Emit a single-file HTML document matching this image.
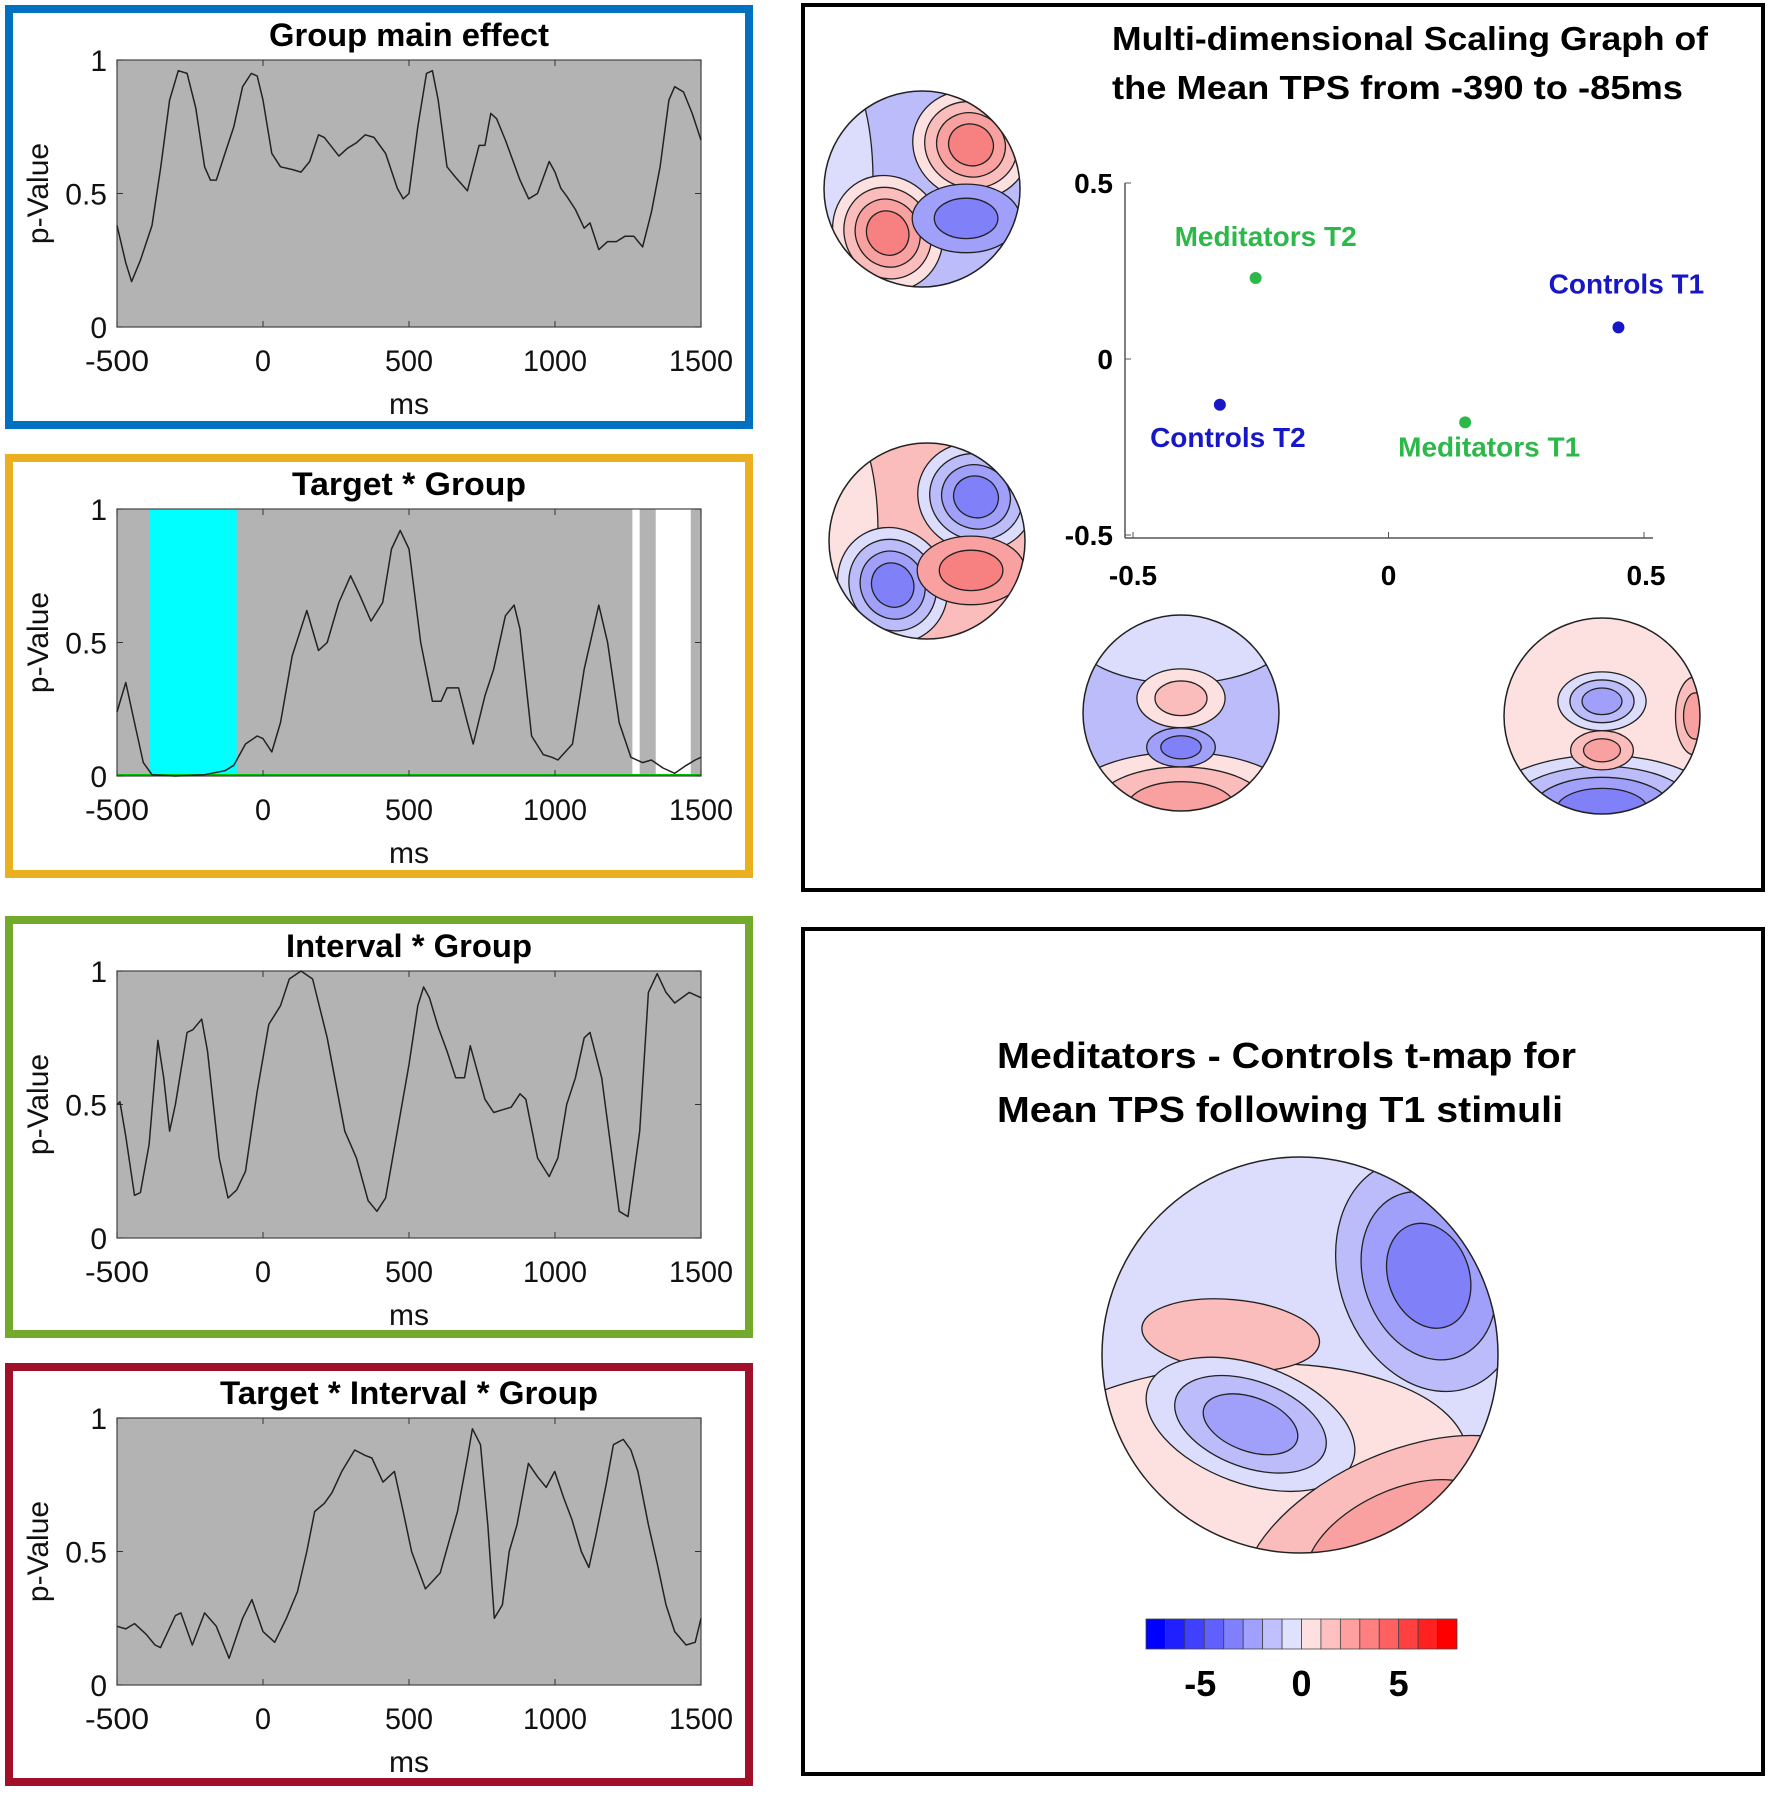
<!DOCTYPE html>
<html><head><meta charset="utf-8">
<style>
html,body{margin:0;padding:0;background:#fff;}
body{width:1770px;height:1796px;position:relative;overflow:hidden;font-family:"Liberation Sans",Arial,sans-serif;}
svg{position:absolute;left:0;top:0;}
</style></head>
<body>
<svg id="fig" width="1770" height="1796" viewBox="0 0 1770 1796" xmlns="http://www.w3.org/2000/svg">
<defs></defs>
<g id="left"></g>
<g id="right"></g>
</svg>
<script>
const NS="http://www.w3.org/2000/svg";
// ---- p-value time series data (ms, p) ----
const g1T=[-500,-470,-450,-420,-380,-350,-320,-290,-260,-230,-200,-180,-160,-130,-100,-70,-40,-20,0,30,60,100,130,160,190,210,260,290,320,350,380,420,460,480,500,530,560,580,600,630,660,700,740,760,780,800,830,880,910,940,980,1000,1020,1040,1070,1100,1120,1150,1180,1210,1240,1270,1300,1330,1360,1390,1410,1440,1470,1500];
const g1P=[0.38,0.24,0.17,0.25,0.38,0.6,0.85,0.96,0.95,0.82,0.6,0.55,0.55,0.65,0.75,0.9,0.95,0.94,0.85,0.65,0.6,0.59,0.58,0.62,0.72,0.71,0.64,0.67,0.69,0.72,0.71,0.65,0.52,0.48,0.5,0.75,0.95,0.96,0.85,0.6,0.56,0.51,0.68,0.68,0.8,0.78,0.7,0.55,0.48,0.5,0.62,0.58,0.52,0.49,0.44,0.37,0.39,0.29,0.32,0.32,0.34,0.34,0.3,0.43,0.6,0.85,0.9,0.88,0.8,0.7];
const g2T=[-500,-470,-440,-410,-380,-300,-200,-130,-100,-60,-20,0,30,60,100,150,190,220,260,300,330,370,410,440,470,500,540,580,610,630,670,700,720,760,790,830,860,880,920,960,990,1010,1060,1100,1150,1180,1220,1260,1300,1330,1370,1410,1450,1480,1500];
const g2P=[0.24,0.35,0.2,0.05,0.005,0,0.005,0.02,0.04,0.12,0.15,0.14,0.09,0.2,0.45,0.62,0.47,0.5,0.65,0.75,0.68,0.58,0.65,0.85,0.92,0.85,0.5,0.28,0.28,0.33,0.33,0.2,0.12,0.3,0.4,0.6,0.64,0.55,0.15,0.08,0.07,0.06,0.12,0.4,0.64,0.5,0.2,0.07,0.05,0.06,0.03,0.01,0.04,0.06,0.07];
const g3T=[-500,-490,-470,-440,-420,-390,-360,-340,-320,-300,-260,-240,-210,-190,-150,-120,-90,-60,-20,20,60,90,130,170,220,280,320,360,390,420,460,500,530,550,570,600,630,660,690,710,740,760,790,820,850,880,900,940,980,1010,1040,1070,1100,1120,1160,1190,1220,1250,1290,1320,1350,1380,1410,1460,1500];
const g3P=[0.5,0.51,0.38,0.16,0.17,0.35,0.74,0.6,0.4,0.5,0.77,0.78,0.82,0.7,0.3,0.15,0.18,0.25,0.55,0.8,0.87,0.97,1.0,0.97,0.75,0.4,0.3,0.14,0.1,0.15,0.4,0.65,0.87,0.94,0.9,0.79,0.7,0.6,0.6,0.72,0.6,0.52,0.47,0.48,0.49,0.54,0.52,0.3,0.23,0.3,0.5,0.6,0.75,0.77,0.6,0.35,0.1,0.08,0.4,0.92,0.99,0.92,0.88,0.92,0.9];
const g4T=[-500,-470,-440,-400,-370,-351,-300,-281,-242,-200,-160,-116,-70,-38,0,40,80,118,150,177,210,236,270,314,350,373,411,450,480,509,556,590,607,640,666,700,717,745,770,792,820,843,870,909,940,970,999,1030,1058,1090,1116,1140,1175,1200,1234,1260,1284,1320,1351,1380,1410,1449,1480,1500];
const g4P=[0.22,0.21,0.23,0.19,0.15,0.14,0.26,0.27,0.15,0.27,0.22,0.1,0.25,0.32,0.2,0.16,0.25,0.35,0.5,0.65,0.68,0.72,0.8,0.88,0.86,0.85,0.76,0.8,0.65,0.5,0.36,0.4,0.42,0.55,0.65,0.85,0.96,0.9,0.6,0.25,0.3,0.5,0.6,0.83,0.78,0.74,0.8,0.7,0.62,0.5,0.44,0.56,0.75,0.9,0.92,0.88,0.8,0.6,0.45,0.3,0.2,0.15,0.16,0.25];
const xTicks=[-500,0,500,1000,1500];
const yTicks=[0,0.5,1];
const yTickLabels=["0","0.5","1"];
const sigBands=[[-390,-90]];
const whiteBands=[[1265,1290],[1345,1465]];
// MDS data
const mdsNames=["Meditators T2","Controls T1","Controls T2","Meditators T1"];
const mdsX=[-0.26,0.45,-0.33,0.15];
const mdsY=[0.23,0.09,-0.13,-0.18];
const mdsTicks=[-0.5,0,0.5];
const mdsTickLabels=["-0.5","0","0.5"];
const cbarValues=[-8,-7,-6,-5,-4,-3,-2,-1,1,2,3,4,5,6,7,8];
const cbarTicks=[-5,0,5];

function el(tag,attrs,parent){const e=document.createElementNS(NS,tag);for(const k in attrs)e.setAttribute(k,attrs[k]);if(parent)parent.appendChild(e);return e;}
function txt(s,attrs,parent){const e=el('text',attrs,parent);e.textContent=s;return e;}

const left=document.getElementById('left');
const panels=[
 {name:'group-main-effect',title:'Group main effect',tl:280,color:'#0070c0',fy:9,fh:416,T:g1T,P:g1P},
 {name:'target-group',title:'Target * Group',tl:234,color:'#eab020',fy:458,fh:416,T:g2T,P:g2P,sig:true},
 {name:'interval-group',title:'Interval * Group',tl:246,color:'#73aa2c',fy:920,fh:414,T:g3T,P:g3P},
 {name:'target-interval-group',title:'Target * Interval * Group',tl:378,color:'#a01029',fy:1367,fh:415,T:g4T,P:g4P}
];
panels.forEach(p=>{
  const g=el('g',{},left);
  
  
  const fr=el('rect',{x:9,y:p.fy,width:740,height:p.fh,fill:'none',stroke:p.color,'stroke-width':8},g);
  
  
  const px0=117,px1=701,py0=p.fy+51,py1=p.fy+318;
  const X=v=>px0+(v+500)/2000*(px1-px0);
  const Y=v=>py1-v*(py1-py0);
  const bg=el('rect',{x:px0,y:py0,width:px1-px0,height:py1-py0,fill:'#b3b3b3'},g);
  
  
  if(p.sig){
    sigBands.forEach(b=>{const r=el('rect',{x:X(b[0]),y:py0,width:X(b[1])-X(b[0]),height:py1-py0,fill:'#00ffff'},g);
      
      });
    whiteBands.forEach(b=>{const r=el('rect',{x:X(b[0]),y:py0,width:X(b[1])-X(b[0]),height:py1-py0,fill:'#ffffff'},g);
      
      });
    el('line',{x1:px0,x2:px1,y1:py1-1,y2:py1-1,stroke:'#00c000','stroke-width':2},g);
  }
  el('rect',{x:px0,y:py0,width:px1-px0,height:py1-py0,fill:'none',stroke:'#444','stroke-width':1.2},g);
  xTicks.forEach(t=>{el('line',{x1:X(t),x2:X(t),y1:py1,y2:py1-6,stroke:'#333'},g);el('line',{x1:X(t),x2:X(t),y1:py0,y2:py0+6,stroke:'#333'},g);
    const l=txt(String(t),{x:X(t),y:py1+44,'font-size':30,'text-anchor':'middle',fill:'#111','textLength':(String(t).length*16),'lengthAdjust':'spacingAndGlyphs'},g);
    
    });
  yTicks.forEach((t,i)=>{el('line',{x1:px0,x2:px0+6,y1:Y(t),y2:Y(t),stroke:'#333'},g);el('line',{x1:px1,x2:px1-6,y1:Y(t),y2:Y(t),stroke:'#333'},g);
    const l=txt(yTickLabels[i],{x:px0-10,y:Y(t)+11,'font-size':30,'text-anchor':'end',fill:'#111'},g);
    
    });
  let d='';p.T.forEach((t,i)=>{d+=(i?'L':'M')+X(t).toFixed(1)+','+Y(p.P[i]).toFixed(1);});
  const ln=el('path',{d:d,fill:'none',stroke:'#222','stroke-width':1.5,'stroke-linejoin':'round'},g);
  
  
  const tt=txt(p.title,{x:409,y:p.fy+37,'font-size':32,'font-weight':'bold','text-anchor':'middle',fill:'#000','textLength':p.tl,'lengthAdjust':'spacingAndGlyphs'},g);
  
  
  const xl=txt('ms',{x:409,y:py1+87,'font-size':30,'text-anchor':'middle',fill:'#111'},g);
  
  
  const yl=txt('p-Value',{x:0,y:0,'font-size':30,'text-anchor':'middle',fill:'#111',transform:`translate(48,${(py0+py1)/2}) rotate(-90)`},g);
  
  
});

// ---- right side ----
const right=document.getElementById('right');
const f1=el('rect',{x:803,y:5,width:960,height:885,fill:'none',stroke:'#000','stroke-width':4},right);


const f2=el('rect',{x:803,y:929,width:960,height:845,fill:'none',stroke:'#000','stroke-width':4},right);


[['Multi-dimensional Scaling Graph of',50,596],['the Mean TPS from -390 to -85ms',99,571]].forEach(a=>{
  const t=txt(a[0],{x:1112,y:a[1],'font-size':33,'font-weight':'bold',fill:'#000','textLength':a[2],'lengthAdjust':'spacingAndGlyphs'},right);
  
  });
[['Meditators - Controls t-map for',1068,579],['Mean TPS following  T1 stimuli',1122,566]].forEach(a=>{
  const t=txt(a[0],{x:997,y:a[1],'font-size':36,'font-weight':'bold',fill:'#000','xml:space':'preserve','textLength':a[2],'lengthAdjust':'spacingAndGlyphs'},right);
  
  });

// MDS axes
const mX=v=>1388.5+v*511, mY=v=>359+v*(-352);
const ax=el('g',{},right);


el('line',{x1:1125,x2:1125,y1:mY(0.5),y2:538,stroke:'#555','stroke-width':1.5},ax);
el('line',{x1:1125,x2:1653,y1:538,y2:538,stroke:'#555','stroke-width':1.5},ax);
mdsTicks.forEach((t,i)=>{
  el('line',{x1:1125,x2:1131,y1:mY(t),y2:mY(t),stroke:'#555'},ax);
  el('line',{x1:mX(t),x2:mX(t),y1:538,y2:532,stroke:'#555'},ax);
  const a=txt(mdsTickLabels[i],{x:1113,y:mY(t)+10,'font-size':28,'font-weight':'bold','text-anchor':'end'},ax);
  
  
  const b=txt(mdsTickLabels[i],{x:mX(t)-(i==0?0:i==2?-2:0),y:585,'font-size':28,'font-weight':'bold','text-anchor':'middle'},ax);
  
  
});
const labOff=[[10,-32],[8,-34],[8,42],[24,34]];
mdsNames.forEach((n,i)=>{
  const col=n.startsWith('Med')?'#2db84a':'#1717c8';
  const c=el('circle',{cx:mX(mdsX[i]),cy:mY(mdsY[i]),r:6,fill:col},right);
  
  
  const t=txt(n,{x:mX(mdsX[i])+labOff[i][0],y:mY(mdsY[i])+labOff[i][1],'font-size':28,'font-weight':'bold','text-anchor':'middle',fill:col},right);
  
  
});

// topomaps
const C={b1:'#dcdcfc',b2:'#bcbcfa',b3:'#a0a0fb',b4:'#8080f9',b5:'#6060f6',r1:'#fde0e0',r2:'#fbbcbc',r3:'#f9a0a0',r4:'#f78080',r5:'#f46060'};
let clipId=0;
function topo(cx,cy,r,base,blobs,name){
  const g=el('g',{},right);
  
  
  const id='clip'+(clipId++);
  const cp=el('clipPath',{id:id},document.querySelector('defs'));
  el('circle',{cx:cx,cy:cy,r:r},cp);
  const inner=el('g',{'clip-path':`url(#${id})`},g);
  el('circle',{cx:cx,cy:cy,r:r,fill:base},inner);
  blobs.forEach(b=>{
    const [bx,by,rx,ry,rot,cols]=b;
    cols.forEach((col,k)=>{
      const s=1-k/cols.length*0.82;
      el('ellipse',{cx:cx+bx*r,cy:cy+by*r,rx:rx*r*s,ry:ry*r*s,transform:`rotate(${rot} ${cx+bx*r} ${cy+by*r})`,fill:col,stroke:'#222','stroke-width':1.3},inner);
    });
  });
  el('circle',{cx:cx,cy:cy,r:r,fill:'none',stroke:'#222','stroke-width':1.5},g);
}
topo(922,189,98,C.b2,[[-0.9,-0.1,0.4,1.2,0,[C.b1]],[-0.35,0.45,0.55,0.6,-30,[C.r1,C.r2,C.r3,C.r4]],[0.5,-0.45,0.6,0.55,20,[C.r1,C.r2,C.r3,C.r4]],[0.45,0.3,0.55,0.35,0,[C.b3,C.b4]]],'topomap-top-left');
topo(927,541,98,C.r2,[[-0.9,-0.1,0.4,1.2,0,[C.r1]],[-0.35,0.45,0.55,0.6,-30,[C.b1,C.b2,C.b3,C.b4]],[0.5,-0.45,0.6,0.55,20,[C.b1,C.b2,C.b3,C.b4]],[0.45,0.3,0.55,0.35,0,[C.r3,C.r4]]],'topomap-middle-left');
topo(1181,713,98,C.b2,[[0,-0.8,1.1,0.5,0,[C.b1]],[0,-0.15,0.45,0.3,0,[C.r1,C.r2]],[0,0.95,1.2,0.55,0,[C.r1,C.r2,C.r3]],[0,0.35,0.35,0.2,0,[C.b3,C.b4]]],'topomap-bottom-left');
topo(1602,716,98,C.r1,[[0,-0.15,0.45,0.3,0,[C.b1,C.b2,C.b3]],[0.95,0,0.2,0.4,0,[C.r2,C.r3]],[0,0.95,1.2,0.55,0,[C.b1,C.b2,C.b3,C.b4]],[0,0.35,0.32,0.2,0,[C.r2,C.r3]]],'topomap-bottom-right');
topo(1300,1355,198,C.b1,[[-0.35,0.6,1.2,0.55,-5,[C.r1]],[-0.35,-0.1,0.45,0.18,5,[C.r2]],[-0.25,0.35,0.55,0.3,20,[C.b1,C.b2,C.b3]],[0.65,-0.4,0.45,0.6,-20,[C.b2,C.b3,C.b4]],[0.5,0.95,0.85,0.45,-25,[C.r2,C.r3]]],'tmap-topomap');

// colorbar
const cbCols=['#0000ff','#2020ff','#4040ff','#6060ff','#8080ff','#a0a0ff','#c0c0ff','#e0e0ff','#ffe0e0','#ffc0c0','#ffa0a0','#ff8080','#ff6060','#ff4040','#ff2020','#ff0000'];
const cbX=v=>1146+(v+8)/16*311;
const cb=el('g',{},right);


cbarValues.forEach((v,i)=>{el('rect',{x:1146+i*311/16,y:1619,width:311/16,height:30,fill:cbCols[i],stroke:'#444','stroke-width':0.8},cb);});
cbarTicks.forEach(t=>{const l=txt(String(t),{x:cbX(t)+(t<0?-4:0),y:1696,'font-size':36,'font-weight':'bold','text-anchor':'middle'},cb);
  
  });
</script>
</body></html>
